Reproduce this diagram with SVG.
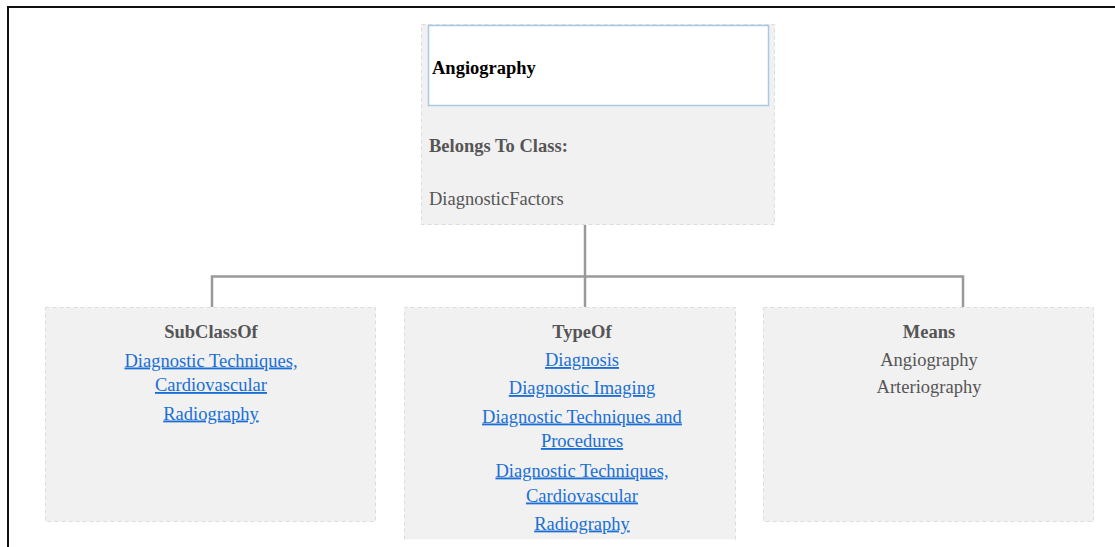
<svg xmlns="http://www.w3.org/2000/svg" width="1115" height="547" viewBox="0 0 1115 547">
  <style>
    text { font-family: "Liberation Serif", "Times New Roman", serif; font-size: 18.5px; }
    .panel { fill: #f1f1f1; stroke: #dcdcdc; stroke-width: 1; stroke-dasharray: 4 3; }
    .edge { fill: none; stroke: #dcdcdc; stroke-width: 1; stroke-dasharray: 4 3; }
    .head { font-weight: bold; fill: #555555; text-anchor: middle; }
    .plain { fill: #555555; }
    .link { fill: #1a6fd4; text-anchor: middle; text-decoration: underline; }
    .mid { text-anchor: middle; }
    .wire { fill: none; stroke: #999999; stroke-width: 2.5; }
  </style>

  <rect width="1115" height="547" fill="#ffffff"/>
  <!-- outer frame -->
  <path d="M8 547 V7 H1115" fill="none" stroke="#111111" stroke-width="2"/>

  <!-- connectors -->
  <g id="connectors">
    <path class="wire" d="M585 225 V276.5"/>
    <path class="wire" d="M212 307 V276.5 H963 V307"/>
    <path class="wire" d="M585 276.5 V307"/>
  </g>

  <!-- concept node -->
  <g id="node-angiography">
    <rect class="panel" x="421.5" y="24.5" width="353" height="200"/>
    <rect x="428.5" y="25.5" width="340" height="80" fill="#ffffff" stroke="#a9c8e6" stroke-width="1.5"/>
    <text x="432" y="74" font-weight="bold" fill="#000000">Angiography</text>
    <text x="429" y="152" font-weight="bold" class="plain">Belongs To Class:</text>
    <text x="429" y="205" class="plain">DiagnosticFactors</text>
  </g>

  <!-- SubClassOf -->
  <g id="node-subclassof">
    <rect class="panel" x="45.5" y="307.5" width="330" height="214"/>
    <text class="head" x="211" y="338">SubClassOf</text>
    <text class="link" x="211" y="366.5">Diagnostic Techniques,</text>
    <text class="link" x="211" y="391">Cardiovascular</text>
    <text class="link" x="211" y="419.5">Radiography</text>
  </g>

  <!-- TypeOf -->
  <g id="node-typeof">
    <rect x="404.5" y="307.5" width="331" height="232" fill="#f1f1f1"/>
    <path class="edge" d="M404.5 539.5 V307.5 H735.5 V539.5"/>
    <text class="head" x="582" y="338">TypeOf</text>
    <text class="link" x="582" y="366">Diagnosis</text>
    <text class="link" x="582" y="394">Diagnostic Imaging</text>
    <text class="link" x="582" y="422.5">Diagnostic Techniques and</text>
    <text class="link" x="582" y="447">Procedures</text>
    <text class="link" x="582" y="476.5">Diagnostic Techniques,</text>
    <text class="link" x="582" y="501.5">Cardiovascular</text>
    <text class="link" x="582" y="529.5">Radiography</text>
  </g>

  <!-- Means -->
  <g id="node-means">
    <rect class="panel" x="763.5" y="307.5" width="330" height="214"/>
    <text class="head" x="929" y="338">Means</text>
    <text class="plain mid" x="929" y="366">Angiography</text>
    <text class="plain mid" x="929" y="393">Arteriography</text>
  </g>
</svg>
